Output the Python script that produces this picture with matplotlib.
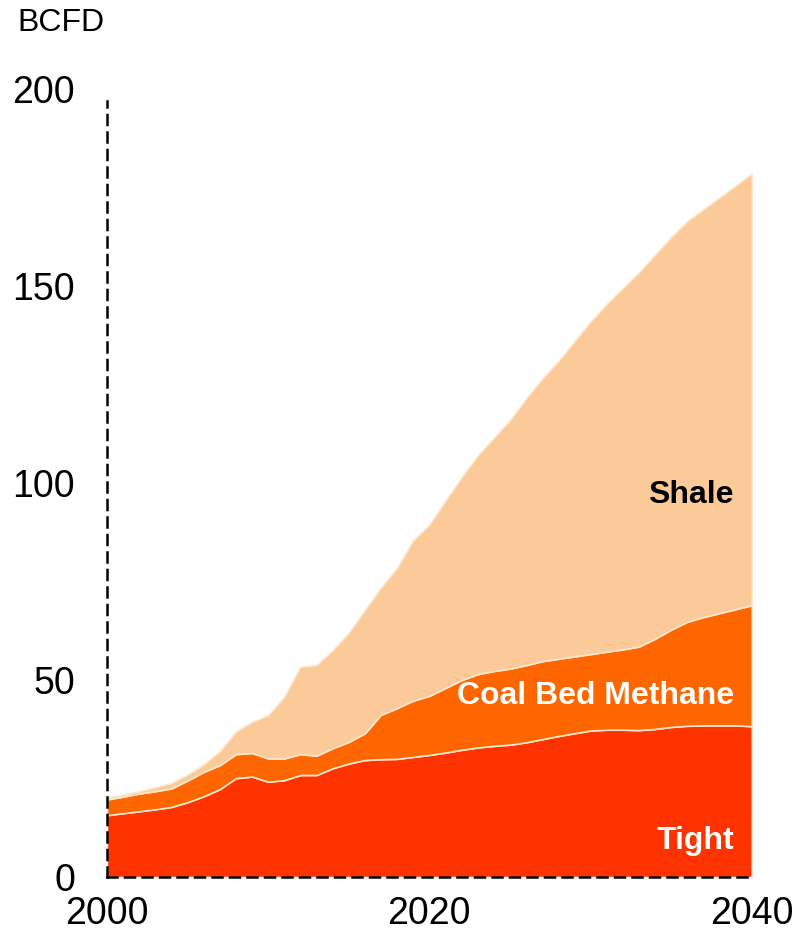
import numpy as np
import matplotlib
matplotlib.use("Agg")
import matplotlib.pyplot as plt

plt.rcParams['font.family'] = ['Liberation Sans', 'DejaVu Sans']

years = np.arange(2000, 2041)

# production by source, billion cubic feet per day
tight = [15.7, 16.2, 16.7, 17.2, 17.8, 19.0, 20.5, 22.3, 25.1, 25.5,
         24.2, 24.6, 25.9, 25.9, 27.6, 28.8, 29.7, 29.9, 30.0, 30.5,
         31.0, 31.6, 32.3, 32.9, 33.3, 33.6, 34.2, 35.0, 35.8, 36.5,
         37.2, 37.4, 37.4, 37.3, 37.6, 38.1, 38.4, 38.5, 38.5, 38.5, 38.3]
coal_bed = [4.0, 4.2, 4.5, 4.6, 4.7, 5.5, 6.2, 6.1, 6.1, 6.0,
            5.9, 5.5, 5.3, 4.9, 5.1, 5.5, 6.8, 11.3, 12.9, 14.3,
            15.0, 16.4, 17.7, 18.6, 19.0, 19.3, 19.6, 19.8, 19.6, 19.5,
            19.4, 19.8, 20.4, 21.2, 22.9, 24.7, 26.4, 27.5, 28.5, 29.5, 30.7]
shale = [0.5, 0.5, 0.6, 1.0, 1.4, 1.5, 1.9, 3.6, 5.7, 7.9,
         11.0, 15.7, 22.2, 23.0, 24.9, 27.7, 31.3, 32.3, 35.6, 40.7,
         43.5, 47.5, 51.5, 55.5, 59.2, 63.1, 67.7, 71.7, 75.6, 80.0,
         84.4, 88.3, 91.7, 95.0, 97.5, 99.7, 101.7, 103.5, 105.5, 107.5, 109.6]

colors = ['#ff3300', '#ff6600', '#fcc999']

fig = plt.figure(figsize=(7.98, 9.39), dpi=100)
ax = fig.add_axes([0.134, 0.066, 0.808, 0.839])

ax.stackplot(years, tight, coal_bed, shale, colors=colors,
             edgecolor='#fde7cc', linewidth=1.2)

ax.set_xlim(2000, 2040)
ax.set_ylim(0, 200)
ax.set_xticks([2000, 2020, 2040])
ax.set_yticks([0, 50, 100, 150, 200])
ax.tick_params(length=0, labelsize=27)
ax.tick_params(axis='y', pad=23)
ax.tick_params(axis='x', pad=14)

for side in ['top', 'right']:
    ax.spines[side].set_visible(False)
for side in ['left', 'bottom']:
    ax.spines[side].set_linestyle((0, (4, 3)))
    ax.spines[side].set_linewidth(1.8)
    ax.spines[side].set_zorder(5)
ax.spines['left'].set_bounds(0, 197)

fig.text(0.022, 0.975, 'BCFD', fontsize=23, va='center', ha='left')

# series names written inside their bands
ax.text(2038.9, 97.0, 'Shale', fontsize=23, fontweight='bold',
        color='black', ha='right', va='center')
ax.text(2038.9, 46.0, 'Coal Bed Methane', fontsize=23, fontweight='bold',
        color='white', ha='right', va='center')
ax.text(2038.9, 9.2, 'Tight', fontsize=23, fontweight='bold',
        color='white', ha='right', va='center')

fig.savefig('out.png', dpi=100)
